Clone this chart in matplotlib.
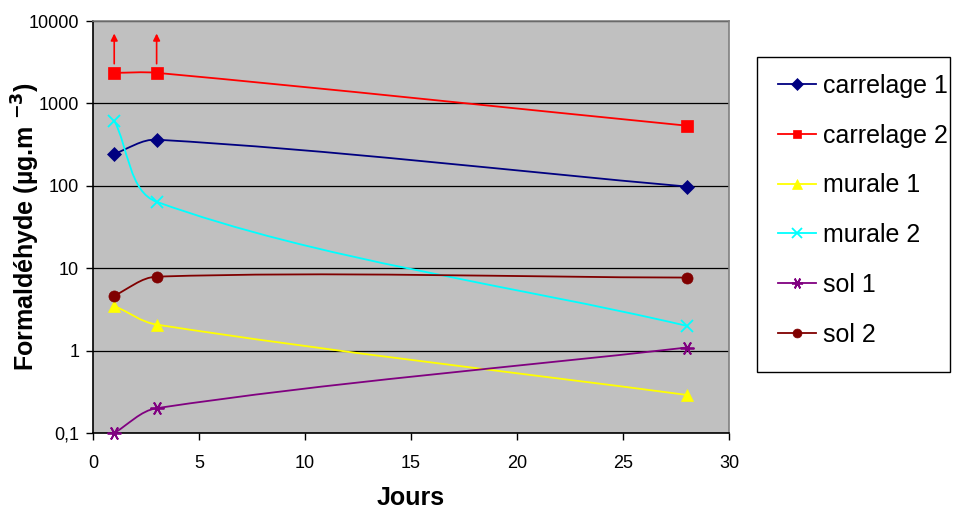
import numpy as np
import matplotlib
matplotlib.use("Agg")
import matplotlib.pyplot as plt
from matplotlib.path import Path
from matplotlib.patches import PathPatch, Rectangle
from matplotlib.lines import Line2D
from matplotlib.ticker import FixedLocator, FixedFormatter, NullLocator

plt.rcParams['font.family'] = ['Liberation Sans', 'DejaVu Sans']

jours = [1, 3, 28]
carrelage_1 = [245, 363, 98]
carrelage_2 = [2350, 2350, 537]
murale_1 = [3.5, 2.07, 0.29]
murale_2 = [620, 64, 2.0]
sol_1 = [0.1, 0.2, 1.09]
sol_2 = [4.65, 7.9, 7.7]
labels = ["carrelage 1", "carrelage 2", "murale 1", "murale 2", "sol 1", "sol 2"]
y_ticks = [0.1, 1, 10, 100, 1000, 10000]
y_tick_labels = ["0,1", "1", "10", "100", "1000", "10000"]
x_ticks = [0, 5, 10, 15, 20, 25, 30]
arrow_days = [1, 3]

series = [carrelage_1, carrelage_2, murale_1, murale_2, sol_1, sol_2]
colors = ["#000080", "#FF0000", "#FFFF00", "#00FFFF", "#800080", "#800000"]
markers = ["D", "s", "^", "x", (6, 2, 90), "o"]
msizes = [7.5, 8, 9, 9, 10, 8]

W, H = 958, 511
fig = plt.figure(figsize=(W / 100, H / 100), dpi=100)
ax = fig.add_axes([0.0971, 0.1526, 0.761 - 0.0971, 0.9589 - 0.1526])
ax.set_facecolor("#C0C0C0")
ax.set_yscale("log")
ax.set_xlim(0, 30)
ax.set_ylim(0.1, 10000)


def smooth_path(xs, ys):
    # Excel-like smoothed line: chordal Catmull-Rom Bezier in display space
    P = ax.transData.transform(np.column_stack([xs, ys]))
    n = len(P)
    d = [np.hypot(*(P[i + 1] - P[i])) for i in range(n - 1)]
    tang = []
    for i in range(n):
        if i == 0:
            t = (P[1] - P[0]) / d[0]
        elif i == n - 1:
            t = (P[-1] - P[-2]) / d[-1]
        else:
            t = (P[i + 1] - P[i - 1]) / (d[i - 1] + d[i])
        tang.append(t)
    verts = [P[0]]
    codes = [Path.MOVETO]
    for i in range(n - 1):
        c1 = P[i] + tang[i] * d[i] / 3.0
        c2 = P[i + 1] - tang[i + 1] * d[i] / 3.0
        verts += [c1, c2, P[i + 1]]
        codes += [Path.CURVE4] * 3
    verts = ax.transData.inverted().transform(np.array(verts))
    return Path(verts, codes)


handles = []
for ys, c, m, ms, lab in zip(series, colors, markers, msizes, labels):
    patch = PathPatch(smooth_path(jours, ys), facecolor="none", edgecolor=c, lw=1.3, zorder=3)
    ax.add_patch(patch)
    mew = 1.3 if m in ("x",) or isinstance(m, tuple) else 0.5
    ax.plot(jours, ys, linestyle="none", marker=m, color=c, markersize=ms,
            markeredgecolor=c, markeredgewidth=mew, zorder=4, clip_on=False)
    handles.append(Line2D([], [], color=c, lw=1.3, marker=m, markersize=ms * 0.8,
                          markeredgecolor=c, markeredgewidth=mew))

# arrows on carrelage 2
for dday in arrow_days:
    y0 = carrelage_2[jours.index(dday)]
    ax.annotate("", xy=(dday, y0 * 3.0), xytext=(dday, y0 * 1.29),
                arrowprops=dict(arrowstyle="-|>", color="#FF0000", lw=1.2,
                                mutation_scale=10, shrinkA=0, shrinkB=0), zorder=5)

ax.yaxis.set_major_locator(FixedLocator(y_ticks))
ax.yaxis.set_major_formatter(FixedFormatter(y_tick_labels))
ax.yaxis.set_minor_locator(NullLocator())
ax.set_xticks(x_ticks)
ax.xaxis.set_minor_locator(NullLocator())
ax.grid(axis="y", which="major", color="black", lw=0.9, zorder=1)
ax.set_axisbelow(True)
ax.tick_params(axis="both", direction="out", length=5, width=1, labelsize=13, colors="black")
ax.tick_params(axis="x", pad=11)
ax.tick_params(axis="y", pad=5)
for s in ("left", "bottom"):
    ax.spines[s].set_color("black")
    ax.spines[s].set_linewidth(1.2)
for s in ("top", "right"):
    ax.spines[s].set_color("#808080")
    ax.spines[s].set_linewidth(1.2)

ax.set_xlabel("Jours", fontsize=18, fontweight="bold", labelpad=10)
ax.set_ylabel("Formaldéhyde (µg.m $^{\\mathbf{-3}}$)", fontsize=18, fontweight="bold")
ax.yaxis.set_label_coords(-0.080, 0.5)

# legend frame (Excel-style box)
fig.patches.append(Rectangle((757 / W, 1 - 372 / H), (950 - 757) / W, (372 - 57) / H,
                             transform=fig.transFigure, facecolor="white",
                             edgecolor="black", lw=1.0, zorder=0))
leg = fig.legend(handles, labels, loc="upper left", bbox_to_anchor=(778 / W, 1 - 74 / H),
                 fontsize=18, frameon=False, labelspacing=1.03, handlelength=1.5,
                 handletextpad=0.3, borderpad=0, borderaxespad=0)

fig.savefig("out.png", dpi=100)
